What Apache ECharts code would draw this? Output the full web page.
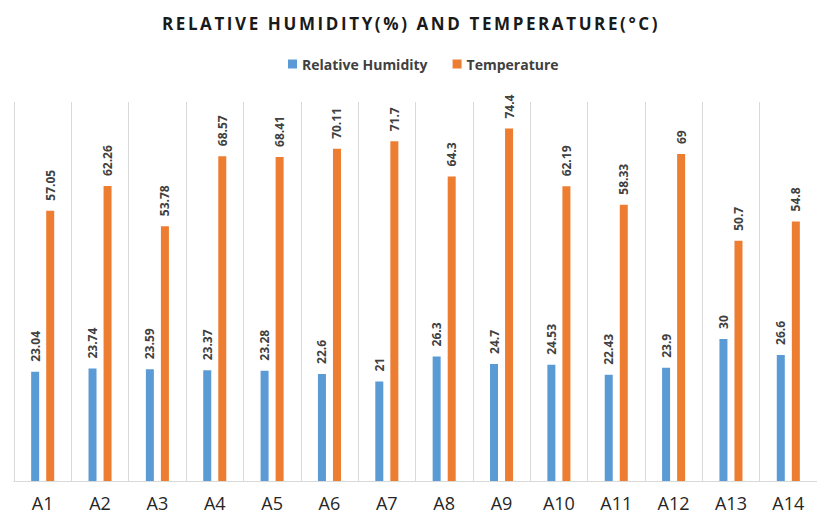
<!DOCTYPE html>
<html>
<head>
<meta charset="utf-8">
<script src="https://cdn.jsdelivr.net/npm/echarts@6/dist/echarts.min.js"></script>
<style>
  html, body { margin: 0; padding: 0; background: #fff; }
  #chart { width: 817px; height: 514px; }
</style>
</head>
<body>
<div id="chart"></div>
<script>
// Sampling sites
const sites = ['A1', 'A2', 'A3', 'A4', 'A5', 'A6', 'A7', 'A8', 'A9', 'A10', 'A11', 'A12', 'A13', 'A14'];
// Relative humidity (%) per site
const humidity = [23.04, 23.74, 23.59, 23.37, 23.28, 22.6, 21, 26.3, 24.7, 24.53, 22.43, 23.9, 30, 26.6];
// Temperature (°C) per site
const temperature = [57.05, 62.26, 53.78, 68.57, 68.41, 70.11, 71.7, 64.3, 74.4, 62.19, 58.33, 69, 50.7, 54.8];

const TITLE = 'RELATIVE HUMIDITY(%) AND TEMPERATURE(°C)';

const chart = echarts.init(document.getElementById('chart'), null, { renderer: 'svg' });

const valueLabel = {
  show: true,
  position: 'top',
  rotate: 90,
  align: 'left',
  verticalAlign: 'middle',
  distance: 10,
  fontFamily: 'Open Sans',
  fontSize: 12,
  fontWeight: 'bold',
  color: '#404040'
};

chart.setOption({
  animation: false,
  graphic: [{
    type: 'text',
    id: 'chartTitle',
    x: 411,
    y: 23,
    style: {
      text: TITLE,
      textAlign: 'center',
      textVerticalAlign: 'middle',
      fontFamily: 'Open Sans',
      fontSize: 17,
      fontWeight: 'bold',
      fill: '#1a1a1a'
    }
  }],
  legend: {
    top: 57,
    left: 288,
    padding: 0,
    itemWidth: 9,
    itemHeight: 9,
    itemGap: 25,
    icon: 'rect',
    textStyle: {
      fontFamily: 'Open Sans',
      fontSize: 14,
      fontWeight: 'bold',
      color: '#404040'
    }
  },
  grid: {
    left: 14,
    right: -2,
    top: 102,
    bottom: 33,
    containLabel: false
  },
  xAxis: {
    type: 'category',
    data: sites,
    axisLine: { show: true, lineStyle: { color: '#d9d9d9', width: 1 } },
    axisTick: { show: false },
    splitLine: { show: true, lineStyle: { color: '#d9d9d9', width: 1 } },
    axisLabel: {
      margin: 13,
      fontFamily: 'Open Sans',
      fontSize: 18,
      color: '#262626'
    }
  },
  yAxis: {
    type: 'value',
    min: 0,
    max: 80,
    show: false,
    splitLine: { show: false }
  },
  series: [
    {
      name: 'Relative Humidity',
      type: 'bar',
      data: humidity,
      barWidth: 8,
      barGap: '88%',
      itemStyle: { color: '#5b9bd5' },
      label: valueLabel
    },
    {
      name: 'Temperature',
      type: 'bar',
      data: temperature,
      barWidth: 8,
      itemStyle: { color: '#ed7d31' },
      label: valueLabel
    }
  ]
});

// Spread the title letters out (tracked heading style)
function trackTitle() {
  document.querySelectorAll('#chart text').forEach(function (t) {
    if (t.textContent === TITLE) {
      t.style.letterSpacing = '2.6px';
    }
  });
}
trackTitle();
chart.on('finished', trackTitle);
</script>
</body>
</html>
